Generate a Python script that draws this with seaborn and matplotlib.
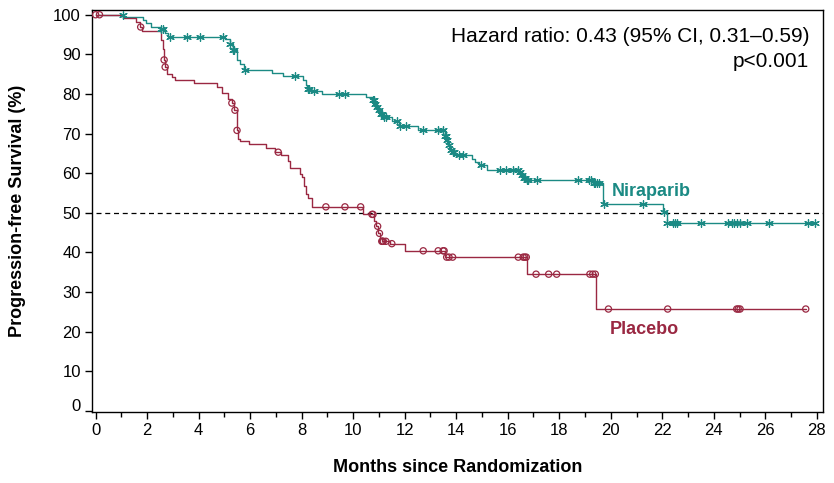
import numpy as np
import pandas as pd
import matplotlib
matplotlib.use("Agg")
import matplotlib.pyplot as plt
import matplotlib.transforms as mtransforms
from matplotlib.ticker import MultipleLocator
import seaborn as sns

# ---- data ----
nira_times = [0, 1.07, 1.85, 1.95, 2.15, 2.50, 2.69, 2.82, 5.02, 5.20, 5.33, 5.48, 5.60, 5.76,
              6.83, 7.29, 8.06, 8.17, 8.22, 8.32, 8.78, 10.50, 10.73, 10.83, 10.90, 10.97,
              11.04, 11.16, 11.50, 11.79, 12.52, 13.55, 13.63, 13.69, 13.76, 13.83, 13.95,
              14.60, 14.73, 14.90, 15.21, 16.42, 16.52, 16.60, 16.71, 19.30, 19.69, 22.04, 22.17]
nira_surv = [100, 99.5, 98.7, 97.9, 97.0, 96.5, 95.5, 94.5, 93.9, 92.7, 91.2, 88.5, 87.6, 86.1,
             85.3, 84.5, 83.6, 82.3, 81.3, 80.7, 80.0, 79.2, 78.4, 77.5, 76.7, 75.9,
             75.0, 74.2, 73.2, 71.8, 71.0, 69.5, 68.3, 67.0, 65.9, 65.3, 64.5,
             63.7, 62.8, 62.0, 60.9, 60.2, 59.5, 58.7, 58.3, 57.4, 52.3, 50.2, 47.3]
nira_censor = [1.05, 2.52, 2.60, 2.89, 3.56, 4.05, 4.93, 5.21, 5.34, 5.36, 5.80, 7.74, 8.26, 8.29,
               8.48, 9.45, 9.69, 10.76, 10.80, 10.86, 10.93, 10.99, 11.07, 11.12, 11.20, 11.27,
               11.69, 11.82, 12.05, 12.72, 13.28, 13.50, 13.57, 13.60, 13.66, 13.72, 13.79,
               13.86, 13.90, 14.12, 14.28, 14.95, 15.70, 15.94, 16.19, 16.41, 16.47, 16.55,
               16.63, 16.68, 16.75, 16.80, 17.13, 18.74, 19.17, 19.24, 19.33, 19.40, 19.47,
               19.55, 19.75, 21.27, 22.06, 22.20, 22.42, 22.50, 22.57, 23.50, 24.55, 24.70,
               24.80, 24.90, 25.02, 25.30, 26.14, 27.66, 27.93]

plac_times = [0, 1.07, 1.57, 1.72, 1.79, 2.54, 2.60, 2.65, 2.69, 2.78, 2.95, 3.08, 3.82, 4.72,
              4.89, 5.15, 5.28, 5.39, 5.47, 5.54, 5.60, 5.97, 6.61, 6.96, 7.18, 7.48, 7.55,
              7.93, 8.00, 8.09, 8.17, 8.26, 8.39, 10.39, 10.81, 10.87, 10.98, 11.04, 11.10,
              11.43, 12.01, 13.56, 16.75, 19.43]
plac_surv = [100, 99.2, 98.1, 96.9, 95.9, 93.7, 91.4, 88.6, 86.8, 85.1, 84.3, 83.4, 82.7, 81.7,
             80.2, 78.8, 77.7, 75.9, 70.8, 68.7, 68.1, 67.3, 66.4, 65.3, 64.5, 63.2, 61.2,
             59.9, 59.0, 56.7, 54.8, 53.8, 51.5, 49.6, 47.9, 46.6, 44.8, 43.6, 42.8,
             42.2, 40.4, 38.8, 34.5, 25.7]
plac_censor = [0.0, 0.15, 1.75, 2.66, 2.70, 5.29, 5.41, 5.49, 7.09, 8.94, 9.68, 10.29, 10.73,
               10.77, 10.95, 11.02, 11.11, 11.14, 11.17, 11.27, 11.50, 12.72, 13.30, 13.49,
               13.53, 13.63, 13.72, 13.86, 16.41, 16.60, 16.66, 16.72, 17.10, 17.59, 17.90,
               19.19, 19.30, 19.40, 19.91, 22.21, 24.89, 24.95, 25.02, 27.57]

arm_names = ["Niraparib", "Placebo"]
hr_text = "Hazard ratio: 0.43 (95% CI, 0.31\u20130.59)"
p_text = "p<0.001"
x_label = "Months since Randomization"
y_label = "Progression-free Survival (%)"
x_ticks = list(range(0, 29, 2))
y_ticks = list(range(0, 101, 10))

TEAL = "#1b8a84"
RED = "#9a2842"


def curve_frame(times, surv, censor, name):
    t = list(times) + [max(censor)]
    s = list(surv) + [surv[-1]]
    return pd.DataFrame({"time": t, "surv": s, "arm": name})


def censor_frame(times, surv, censor, name):
    idx = np.searchsorted(np.asarray(times), np.asarray(censor), side="right") - 1
    return pd.DataFrame({"time": censor, "surv": np.asarray(surv)[idx], "arm": name})


curves = pd.concat([curve_frame(nira_times, nira_surv, nira_censor, arm_names[0]),
                    curve_frame(plac_times, plac_surv, plac_censor, arm_names[1])])
cn = censor_frame(nira_times, nira_surv, nira_censor, arm_names[0])
cp = censor_frame(plac_times, plac_surv, plac_censor, arm_names[1])

sns.set_theme(style="ticks")
plt.rcParams["font.family"] = ["Liberation Sans", "DejaVu Sans"]

fig = plt.figure(figsize=(8.34, 4.83), dpi=100)
ax = fig.add_axes([92 / 834, 1 - 412 / 483, 731 / 834, 402 / 483])

sns.lineplot(data=curves, x="time", y="surv", hue="arm",
             palette={arm_names[0]: TEAL, arm_names[1]: RED},
             drawstyle="steps-post", estimator=None, sort=False,
             linewidth=1.0, legend=False, ax=ax)
sns.scatterplot(data=cn, x="time", y="surv", marker=(6, 2, 0), s=30,
                color=TEAL, edgecolor=TEAL, linewidth=0.9, legend=False, ax=ax, zorder=3)
sns.scatterplot(data=cp, x="time", y="surv", marker="o", s=20,
                facecolor="none", edgecolor=RED, linewidth=0.9, legend=False, ax=ax, zorder=3)

ax.hlines(50, 0, 28.24, colors="black", linestyles=(0, (4, 3)), linewidth=0.9, zorder=1)

ax.set_xlim(-0.14, 28.24)
ax.set_ylim(-0.3, 101.2)
ax.set_xticks(x_ticks)
ax.set_yticks(y_ticks)
ax.xaxis.set_minor_locator(MultipleLocator(1))
ax.tick_params(axis="both", which="major", direction="out", length=5, width=1,
               labelsize=12, color="black", labelcolor="black", pad=3)
ax.tick_params(axis="x", which="minor", direction="out", length=3.5, width=1, color="black")
for sp in ax.spines.values():
    sp.set_visible(True)
    sp.set_color("black")
    sp.set_linewidth(1.0)

# lift the "0" y label slightly as in the reference
for lab in ax.get_yticklabels():
    if lab.get_text() == "0":
        lab.set_transform(lab.get_transform() +
                          mtransforms.ScaledTranslation(0, 6 / 100, fig.dpi_scale_trans))

ax.set_xlabel(x_label, fontsize=13, fontweight="bold", color="black")
ax.set_ylabel(y_label, fontsize=13, fontweight="bold", color="black")
ax.xaxis.set_label_coords(0.5, -0.117)
ax.yaxis.set_label_coords(-0.09, 0.5)

ax.text(0.981, 0.933, hr_text, transform=ax.transAxes, ha="right", va="center",
        fontsize=15, color="black")
ax.text(0.981, 0.871, p_text, transform=ax.transAxes, ha="right", va="center",
        fontsize=15, color="black")
ax.text(20.05, 55.4, arm_names[0], ha="left", va="center", fontsize=13,
        fontweight="bold", color=TEAL)
ax.text(19.97, 20.6, arm_names[1], ha="left", va="center", fontsize=13,
        fontweight="bold", color=RED)

fig.savefig("out.png", dpi=100)
